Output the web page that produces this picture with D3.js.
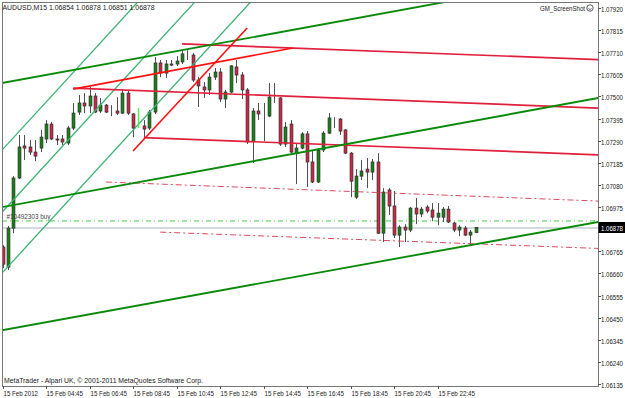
<!DOCTYPE html>
<html lang="en">

<head>
    <meta charset="UTF-8">
    <title>AUDUSD M15</title>
    <script src="https://d3js.org/d3.v7.min.js"></script>
    <style>
        body {
            margin: 0;
            background: #fff;
        }

        text {
            font-family: "Liberation Sans", Arial, sans-serif;
            font-size: 8px;
            fill: #1a1a1a;
        }
    </style>
</head>

<body>
    <script>
        // tick labels on the time axis (every 8 bars = 2 hours)
        const timeTickBars = [0, 8, 16, 24, 32, 40, 48, 56, 64, 72, 80];
        const timeTickLabels = ["15 Feb 2012", "15 Feb 04:45", "15 Feb 06:45", "15 Feb 08:45", "15 Feb 10:45",
            "15 Feb 12:45", "15 Feb 14:45", "15 Feb 16:45", "15 Feb 18:45", "15 Feb 20:45", "15 Feb 22:45"];

        // price labels (1.06870 sits under the bid box, so it is not shown)
        const priceTicks = [1.07920, 1.07815, 1.07710, 1.07605, 1.07500, 1.07395, 1.07290, 1.07185, 1.07080,
            1.06975, 1.06765, 1.06660, 1.06555, 1.06450, 1.06345, 1.06240, 1.06135];

        // M15 candles, bar 0 .. 87
        const opens = [
            1.06785, 1.06690, 1.06875, 1.07113, 1.07265, 1.07260, 1.07236, 1.07255, 1.07298, 1.07369,
            1.07298, 1.07298, 1.07279, 1.07350, 1.07426, 1.07469, 1.07455, 1.07502, 1.07431, 1.07459,
            1.07431, 1.07431, 1.07421, 1.07516, 1.07417, 1.07398, 1.07360, 1.07350, 1.07426, 1.07659,
            1.07611, 1.07654, 1.07654, 1.07664, 1.07697, 1.07697, 1.07578, 1.07545, 1.07531, 1.07592,
            1.07616, 1.07488, 1.07521, 1.07640, 1.07602, 1.07531, 1.07288, 1.07431, 1.07407, 1.07407,
            1.07493, 1.07493, 1.07274, 1.07369, 1.07231, 1.07255, 1.07322, 1.07189, 1.07094, 1.07246,
            1.07326, 1.07393, 1.07393, 1.07341, 1.07231, 1.07022, 1.07122, 1.07155, 1.07141, 1.07189,
            1.06851, 1.07056, 1.06980, 1.06842, 1.06880, 1.06866, 1.06970, 1.06942, 1.06975, 1.06961,
            1.06927, 1.06927, 1.06965, 1.06899, 1.06866, 1.06875, 1.06842, 1.06854
        ];
        const highs = [
            1.06794, 1.06885, 1.07122, 1.07317, 1.07317, 1.07293, 1.07293, 1.07341, 1.07388, 1.07379,
            1.07317, 1.07317, 1.07360, 1.07469, 1.07507, 1.07516, 1.07545, 1.07516, 1.07493, 1.07464,
            1.07459, 1.07497, 1.07531, 1.07531, 1.07421, 1.07445, 1.07388, 1.07436, 1.07687, 1.07673,
            1.07673, 1.07673, 1.07692, 1.07720, 1.07720, 1.07706, 1.07592, 1.07569, 1.07611, 1.07635,
            1.07635, 1.07531, 1.07649, 1.07673, 1.07616, 1.07540, 1.07445, 1.07469, 1.07469, 1.07564,
            1.07564, 1.07497, 1.07379, 1.07388, 1.07279, 1.07331, 1.07336, 1.07246, 1.07255, 1.07336,
            1.07421, 1.07402, 1.07398, 1.07345, 1.07236, 1.07155, 1.07198, 1.07208, 1.07203, 1.07231,
            1.07065, 1.07065, 1.07051, 1.06889, 1.06894, 1.06975, 1.07018, 1.06975, 1.06984, 1.06994,
            1.06994, 1.06975, 1.06980, 1.06904, 1.06889, 1.06885, 1.06866, 1.06878
        ];
        const lows = [
            1.06685, 1.06676, 1.06851, 1.07108, 1.07198, 1.07222, 1.07193, 1.07236, 1.07279, 1.07293,
            1.07269, 1.07269, 1.07269, 1.07341, 1.07412, 1.07421, 1.07421, 1.07421, 1.07421, 1.07421,
            1.07407, 1.07412, 1.07417, 1.07412, 1.07307, 1.07350, 1.07307, 1.07341, 1.07417, 1.07592,
            1.07588, 1.07645, 1.07645, 1.07654, 1.07673, 1.07569, 1.07450, 1.07493, 1.07507, 1.07578,
            1.07474, 1.07445, 1.07516, 1.07564, 1.07488, 1.07274, 1.07184, 1.07388, 1.07288, 1.07402,
            1.07469, 1.07265, 1.07260, 1.07231, 1.07084, 1.07250, 1.07070, 1.07089, 1.07089, 1.07236,
            1.07322, 1.07350, 1.07317, 1.07227, 1.07022, 1.07013, 1.07103, 1.07065, 1.07103, 1.06847,
            1.06809, 1.06937, 1.06828, 1.06785, 1.06809, 1.06856, 1.06894, 1.06927, 1.06946, 1.06908,
            1.06889, 1.06904, 1.06899, 1.06856, 1.06837, 1.06837, 1.06794, 1.06851
        ];
        const closes = [
            1.06704, 1.06875, 1.07113, 1.07260, 1.07255, 1.07236, 1.07217, 1.07307, 1.07369, 1.07298,
            1.07293, 1.07284, 1.07350, 1.07421, 1.07469, 1.07455, 1.07502, 1.07426, 1.07459, 1.07426,
            1.07431, 1.07421, 1.07516, 1.07421, 1.07350, 1.07398, 1.07345, 1.07426, 1.07659, 1.07611,
            1.07654, 1.07649, 1.07668, 1.07702, 1.07697, 1.07578, 1.07550, 1.07531, 1.07592, 1.07616,
            1.07488, 1.07521, 1.07645, 1.07602, 1.07531, 1.07284, 1.07431, 1.07417, 1.07407, 1.07497,
            1.07493, 1.07274, 1.07355, 1.07236, 1.07255, 1.07322, 1.07189, 1.07094, 1.07246, 1.07326,
            1.07398, 1.07393, 1.07336, 1.07231, 1.07098, 1.07122, 1.07146, 1.07141, 1.07189, 1.06851,
            1.07046, 1.06980, 1.06842, 1.06880, 1.06866, 1.06970, 1.06942, 1.06965, 1.06956, 1.06927,
            1.06946, 1.06965, 1.06904, 1.06866, 1.06880, 1.06842, 1.06856, 1.06878
        ];

        // drawn objects: [bar1, price1, bar2, price2]
        const greenChannel = [[0, 1.07564, 80, 1.07942], [0, 1.06975, 80, 1.07353], [0, 1.06391, 80, 1.06766]];
        const steepChannel = [[0, 1.07248, 20, 1.07811], [0, 1.06953, 20, 1.07516], [0, 1.06664, 20, 1.07227]];
        const redChannel = [[33, 1.07750, 80, 1.07704], [13, 1.07540, 80, 1.07474], [26, 1.07305, 80, 1.07252]];
        const redDashed = [[19, 1.07094, 80, 1.07033], [29, 1.06856, 80, 1.06807]];
        const redSegments = [[13, 1.07535, 53.4, 1.07730], [24, 1.07241, 45, 1.07825]];
        const limeMarker = [[25, 1.07445, 25, 1.07350]];

        const orderPrice = 1.06909;
        const orderLabel = "#10492303 buy";
        const bidPrice = 1.06878;
        const titleText = "AUDUSD,M15  1.06854 1.06878 1.06851 1.06878";

        const W = 625, H = 398;
        const plot = { left: 2, top: 2, right: 598, bottom: 386 };

        const svg = d3.select("body").append("svg")
            .attr("width", W)
            .attr("height", H);

        svg.append("rect").attr("width", W).attr("height", H).attr("fill", "#fff");

        const x = d3.scaleLinear().domain([0, 87]).range([2.5, 475.6]);
        const y = d3.scaleLinear().domain([1.06135, 1.07920]).range([384, 8]);

        svg.append("clipPath").attr("id", "plotClip")
            .append("rect")
            .attr("x", plot.left).attr("y", plot.top)
            .attr("width", plot.right - plot.left).attr("height", plot.bottom - plot.top);

        const area = svg.append("g").attr("clip-path", "url(#plotClip)");

        // ---- horizontal order / bid lines
        area.append("line")
            .attr("x1", plot.left).attr("x2", plot.right)
            .attr("y1", y(bidPrice) + 0.5).attr("y2", y(bidPrice) + 0.5)
            .attr("stroke", "#aab4be").attr("stroke-width", 1);

        area.append("line")
            .attr("x1", plot.left).attr("x2", plot.right)
            .attr("y1", y(orderPrice)).attr("y2", y(orderPrice))
            .attr("stroke", "#44cc44").attr("stroke-width", 1)
            .attr("stroke-dasharray", "5,3,1,3");

        // ---- candles
        const candles = d3.range(opens.length).map(i => ({
            i: i, o: opens[i], h: highs[i], l: lows[i], c: closes[i]
        }));

        const cg = area.append("g");
        cg.selectAll("line.wick")
            .data(candles)
            .join("line")
            .attr("class", "wick")
            .attr("x1", d => Math.round(x(d.i)) + 0.5)
            .attr("x2", d => Math.round(x(d.i)) + 0.5)
            .attr("y1", d => y(d.h))
            .attr("y2", d => y(d.l))
            .attr("stroke", "#505050")
            .attr("stroke-width", 1);

        cg.selectAll("rect.body")
            .data(candles)
            .join("rect")
            .attr("class", "body")
            .attr("x", d => Math.round(x(d.i)) - 0.9)
            .attr("width", 2.8)
            .attr("y", d => y(Math.max(d.o, d.c)))
            .attr("height", d => Math.abs(y(d.o) - y(d.c)))
            .attr("fill", d => d.c >= d.o ? "#0b870b" : "#dc1e44")
            .attr("stroke", "#333")
            .attr("stroke-width", 0.8);

        // ---- trend lines
        function linePoints(seg, ext) {
            let x1 = x(seg[0]), y1 = y(seg[1]), x2 = x(seg[2]), y2 = y(seg[3]);
            if (ext === "none") return [x1, y1, x2, y2];
            const k = (y2 - y1) / (x2 - x1);
            const xr = 900;
            if (ext === "right") return [x1, y1, xr, y1 + k * (xr - x1)];
            const xl = -300;
            return [xl, y1 + k * (xl - x1), xr, y1 + k * (xr - x1)];
        }

        function drawLines(segs, ext, color, width, dash) {
            area.append("g").selectAll("line")
                .data(segs)
                .join("line")
                .each(function (d) {
                    const p = linePoints(d, ext);
                    d3.select(this)
                        .attr("x1", p[0]).attr("y1", p[1])
                        .attr("x2", p[2]).attr("y2", p[3]);
                })
                .attr("stroke", color)
                .attr("stroke-width", width)
                .attr("stroke-dasharray", dash || null);
        }

        drawLines(steepChannel, "both", "#3cb371", 1.3);
        drawLines(redDashed, "right", "#e0485e", 1, "6,3,2,3");
        drawLines(redChannel, "right", "#e0203c", 1.7);
        drawLines(greenChannel, "both", "#0a8a0a", 1.9);
        drawLines(redSegments, "none", "#ff1010", 1.6);
        drawLines(limeMarker, "none", "#33ff33", 1.2);

        // ---- frame and axes
        svg.append("rect")
            .attr("x", plot.left + 0.5).attr("y", plot.top + 0.5)
            .attr("width", plot.right - plot.left).attr("height", plot.bottom - plot.top)
            .attr("fill", "none").attr("stroke", "#777");

        // axis text is narrower than Liberation Sans, so squeeze it horizontally
        const squeeze = 0.76;
        const yAxis = svg.append("g");
        priceTicks.forEach(p => {
            const py = Math.round(y(p)) + 0.5;
            yAxis.append("line")
                .attr("x1", plot.right).attr("x2", plot.right + 3)
                .attr("y1", py).attr("y2", py)
                .attr("stroke", "#555");
            yAxis.append("text")
                .attr("transform", `translate(${plot.right + 3},${py + 3}) scale(${squeeze},1)`)
                .text(p.toFixed(5));
        });

        // current bid label
        yAxis.append("rect")
            .attr("x", plot.right + 0.5).attr("y", y(bidPrice) - 5.5)
            .attr("width", W - plot.right).attr("height", 11)
            .attr("fill", "#000");
        yAxis.append("text")
            .attr("transform", `translate(${plot.right + 3},${y(bidPrice) + 3.5}) scale(${squeeze},1)`)
            .style("fill", "#fff")
            .text(bidPrice.toFixed(5));

        const xAxis = svg.append("g");
        timeTickBars.forEach((b, k) => {
            const tx = Math.round(x(b)) + 0.5;
            xAxis.append("line")
                .attr("x1", tx).attr("x2", tx)
                .attr("y1", plot.bottom).attr("y2", plot.bottom + 3)
                .attr("stroke", "#555");
            xAxis.append("text")
                .attr("x", tx).attr("y", 395.5)
                .attr("textLength", k === 0 ? 34.5 : 36.5).attr("lengthAdjust", "spacingAndGlyphs")
                .text(timeTickLabels[k]);
        });

        // ---- texts inside the chart
        svg.append("text")
            .attr("x", 2.5).attr("y", 9.8)
            .attr("textLength", 152).attr("lengthAdjust", "spacingAndGlyphs")
            .text(titleText);

        svg.append("text")
            .attr("x", 540).attr("y", 10.5)
            .attr("textLength", 45).attr("lengthAdjust", "spacingAndGlyphs")
            .text("GM_ScreenShot");
        svg.append("circle")
            .attr("cx", 590).attr("cy", 8).attr("r", 3.2)
            .attr("fill", "none").attr("stroke", "#333").attr("stroke-width", 0.8);
        svg.append("path")
            .attr("d", "M588.3,8.6 Q590,10.4 591.7,8.6")
            .attr("fill", "none").attr("stroke", "#333").attr("stroke-width", 0.7);

        svg.append("text")
            .attr("x", 6.5).attr("y", y(orderPrice) - 1.5)
            .attr("textLength", 44).attr("lengthAdjust", "spacingAndGlyphs")
            .style("fill", "#444")
            .text(orderLabel);

        svg.append("text")
            .attr("x", 4).attr("y", 382.5)
            .attr("textLength", 199).attr("lengthAdjust", "spacingAndGlyphs")
            .text("MetaTrader - Alpari UK, \u00a9 2001-2011 MetaQuotes Software Corp.");
    </script>
</body>

</html>
